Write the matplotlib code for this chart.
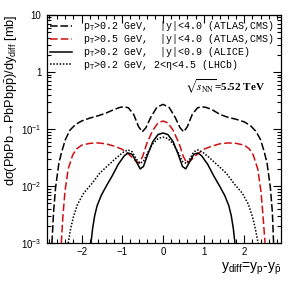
import numpy as np
import matplotlib
matplotlib.use('Agg')
import matplotlib.pyplot as plt
from matplotlib.ticker import FixedLocator, FixedFormatter, MultipleLocator

plt.rcParams['font.family'] = ['Liberation Sans', 'DejaVu Sans']
plt.rcParams['mathtext.fontset'] = 'custom'
plt.rcParams['mathtext.rm'] = 'Liberation Sans'
plt.rcParams['mathtext.it'] = 'Liberation Sans:italic'
plt.rcParams['mathtext.bf'] = 'Liberation Sans:bold'

# pT>0.2 GeV, |y|<4.0 (ATLAS,CMS)
atlas02_x = [-2.73, -2.69, -2.64, -2.56, -2.49, -2.40, -2.29, -2.15, -2.0, -1.8, -1.6, -1.4, -1.2, -1.05, -0.95,
             -0.85, -0.72, -0.6, -0.51, -0.42, -0.3, -0.15, 0.0, 0.15, 0.3, 0.42, 0.51, 0.6, 0.72, 0.85, 0.95,
             1.05, 1.2, 1.4, 1.6, 1.8, 2.0, 2.15, 2.29, 2.40, 2.49, 2.56, 2.64, 2.69, 2.72]
atlas02_y = [0.001, 0.0035, 0.0095, 0.025, 0.04, 0.065, 0.095, 0.12, 0.138, 0.155, 0.17, 0.19, 0.22, 0.24, 0.245,
             0.235, 0.18, 0.11, 0.089, 0.105, 0.16, 0.24, 0.27, 0.24, 0.16, 0.105, 0.089, 0.11, 0.18, 0.235, 0.245,
             0.24, 0.22, 0.18, 0.16, 0.148, 0.133, 0.115, 0.09, 0.065, 0.04, 0.025, 0.0095, 0.0035, 0.001]

# pT>0.5 GeV, |y|<4.0 (ATLAS,CMS)
atlas05_x = [-2.50, -2.46, -2.41, -2.33, -2.22, -2.12, -2.0, -1.8, -1.6, -1.4, -1.2, -1.0, -0.82, -0.68, -0.59,
             -0.5, -0.4, -0.25, -0.12, 0.0, 0.12, 0.25, 0.4, 0.5, 0.59, 0.68, 0.82, 1.0, 1.2, 1.4, 1.6, 1.8, 2.0,
             2.12, 2.22, 2.33, 2.41, 2.46, 2.51]
atlas05_y = [0.001, 0.003, 0.008, 0.02, 0.035, 0.045, 0.052, 0.056, 0.057, 0.055, 0.05, 0.044, 0.035, 0.028, 0.025,
             0.033, 0.055, 0.095, 0.128, 0.138, 0.128, 0.095, 0.055, 0.033, 0.025, 0.028, 0.035, 0.044, 0.05, 0.055,
             0.057, 0.056, 0.052, 0.045, 0.035, 0.02, 0.008, 0.003, 0.001]

# pT>0.2 GeV, |y|<0.9 (ALICE)
alice_x = [-1.77, -1.73, -1.68, -1.62, -1.52, -1.40, -1.25, -1.1, -0.95, -0.86, -0.76, -0.66, -0.56, -0.48, -0.38,
           -0.25, -0.12, 0.0, 0.12, 0.25, 0.38, 0.48, 0.56, 0.66, 0.76, 0.86, 0.95, 1.1, 1.25, 1.40, 1.52, 1.62,
           1.68, 1.73, 1.77]
alice_y = [0.001, 0.0018, 0.003, 0.0045, 0.0068, 0.0098, 0.015, 0.024, 0.034, 0.038, 0.036, 0.027, 0.02, 0.022, 0.035,
           0.06, 0.08, 0.085, 0.08, 0.06, 0.035, 0.022, 0.02, 0.027, 0.036, 0.038, 0.034, 0.024, 0.015, 0.0098,
           0.0068, 0.0045, 0.003, 0.0018, 0.001]

# pT>0.2 GeV, 2<eta<4.5 (LHCb)
lhcb_x = [-2.33, -2.27, -2.2, -2.1, -1.95, -1.75, -1.55, -1.35, -1.15, -0.98, -0.86, -0.76, -0.66, -0.57, -0.48,
          -0.38, -0.25, -0.12, 0.0, 0.12, 0.25, 0.38, 0.48, 0.57, 0.66, 0.76, 0.86, 0.98, 1.15, 1.35, 1.55, 1.75,
          1.95, 2.1, 2.2, 2.27, 2.34]
lhcb_y = [0.001, 0.0018, 0.0029, 0.0048, 0.0075, 0.011, 0.017, 0.023, 0.031, 0.039, 0.043, 0.04, 0.03, 0.025, 0.027,
          0.038, 0.055, 0.068, 0.072, 0.068, 0.055, 0.038, 0.027, 0.025, 0.03, 0.04, 0.043, 0.039, 0.031, 0.023,
          0.017, 0.011, 0.0075, 0.0048, 0.0029, 0.0018, 0.001]

labels = ['p$_{\\rm T}$>0.2 GeV,  |y|<4.0 (ATLAS,CMS)',
          'p$_{\\rm T}$>0.5 GeV,  |y|<4.0 (ATLAS,CMS)',
          'p$_{\\rm T}$>0.2 GeV,  |y|<0.9 (ALICE)',
          'p$_{\\rm T}$>0.2 GeV, 2<\u03b7<4.5 (LHCb)']

ytick_vals = [1e-3, 1e-2, 1e-1, 1, 10]
ytick_labels = ['10$^{-3}$', '10$^{-2}$', '10$^{-1}$', '1', '10']
xtick_vals = [-2, -1, 0, 1, 2]

fig = plt.figure(figsize=(2.96, 2.86), dpi=100)
ax = fig.add_axes([0.159, 0.150, 0.790, 0.798])

lw = 1.1
ax.plot(atlas02_x, atlas02_y, color='black', lw=lw, dashes=(5, 1.8), label=labels[0])
ax.plot(atlas05_x, atlas05_y, color='#d01010', lw=lw, dashes=(5, 2.0), label=labels[1])
ax.plot(alice_x, alice_y, color='black', lw=lw, label=labels[2])
ax.plot(lhcb_x, lhcb_y, color='black', lw=lw, dashes=(1, 1.1), label=labels[3])

ax.set_yscale('log')
ax.set_ylim(1e-3, 10)
ax.set_xlim(-2.85, 2.9)

ax.yaxis.set_major_locator(FixedLocator(ytick_vals))
ax.yaxis.set_major_formatter(FixedFormatter(ytick_labels))
ax.xaxis.set_major_locator(FixedLocator(xtick_vals))
ax.xaxis.set_minor_locator(MultipleLocator(0.2))
ax.set_xticklabels(['\u22122', '\u22121', '0', '1', '2'])

ax.tick_params(which='both', direction='in', top=True, right=True, labelsize=7, width=0.8)
ax.tick_params(which='major', length=6)
ax.tick_params(which='minor', length=3)
ax.tick_params(axis='x', pad=3)
ax.tick_params(axis='y', pad=4)
for s in ax.spines.values():
    s.set_linewidth(0.9)

ax.set_ylabel('d\u03c3(PbPb\u2192PbPbp$\\bar{\\rm p}$)/dy$_{\\rm diff}$ [mb]', fontsize=9.2, loc='top')
ax.yaxis.set_label_coords(-0.115, 1.0)
ax.set_xlabel('y$_{\\rm diff}$=y$_{\\rm p}$-y$_{\\bar{\\rm p}}$', fontsize=10, loc='right')
ax.xaxis.set_label_coords(1.0, -0.075)

ax.text(0.59, 0.684, '$\\sqrt{s_{\\rm NN}}$=5.52 TeV', transform=ax.transAxes, fontsize=8,
        family='Liberation Serif', fontweight='bold', math_fontfamily='stix', va='center', ha='left')

ax.legend(loc='upper left', bbox_to_anchor=(0.013, 0.98), frameon=False, borderpad=0, borderaxespad=0,
          handlelength=2.2, handletextpad=1.1, labelspacing=-0.12,
          prop={'family': 'Liberation Mono', 'size': 7.2})

fig.savefig('out.png', dpi=100)
